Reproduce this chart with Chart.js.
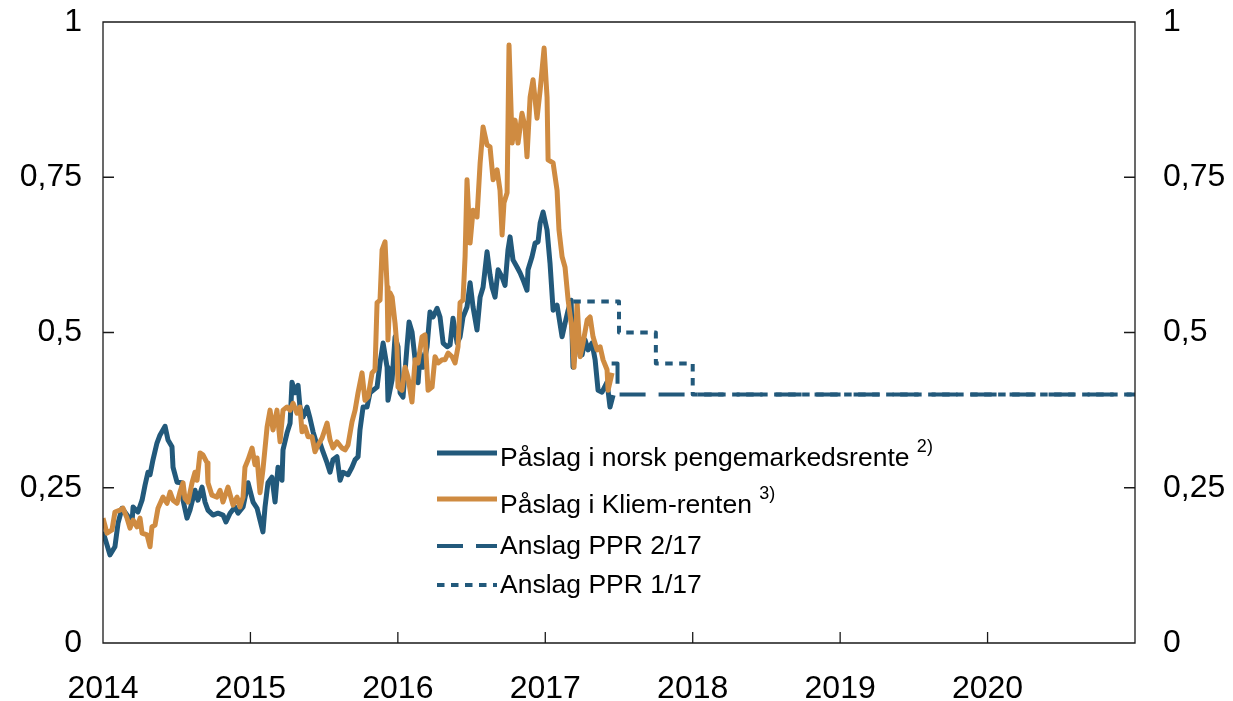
<!DOCTYPE html>
<html>
<head>
<meta charset="utf-8">
<script src="https://cdn.jsdelivr.net/npm/chart.js@4.4.0/dist/chart.umd.min.js"></script>
<style>
    html, body { margin: 0; padding: 0; background: #fff; }
    #wrap { width: 1233px; height: 701px; }
</style>
</head>
<body>
<div id="wrap"><canvas id="chart" width="1233" height="701"></canvas></div>
<script>
// x-akse: desimalår
const yearTicks = [2014, 2015, 2016, 2017, 2018, 2019, 2020];
const valueTicks = [0, 0.25, 0.5, 0.75, 1];

// Påslag i norsk pengemarkedsrente
const norskDates = [2014.000, 2014.027, 2014.047, 2014.081, 2014.102, 2014.129, 2014.163, 2014.197, 2014.204, 2014.237,
    2014.265, 2014.285, 2014.305, 2014.319, 2014.339, 2014.366, 2014.387, 2014.421, 2014.441, 2014.468,
    2014.475, 2014.502, 2014.536, 2014.543, 2014.570, 2014.590, 2014.624, 2014.644, 2014.672, 2014.692,
    2014.712, 2014.746, 2014.780, 2014.814, 2014.834, 2014.862, 2014.895, 2014.916, 2014.950, 2014.984,
    2015.018, 2015.045, 2015.065, 2015.085, 2015.099, 2015.119, 2015.146, 2015.167, 2015.187, 2015.214,
    2015.221, 2015.248, 2015.269, 2015.282, 2015.303, 2015.323, 2015.336, 2015.357, 2015.384, 2015.404,
    2015.425, 2015.452, 2015.472, 2015.492, 2015.520, 2015.540, 2015.560, 2015.587, 2015.608, 2015.628,
    2015.662, 2015.689, 2015.710, 2015.730, 2015.743, 2015.764, 2015.791, 2015.811, 2015.832, 2015.859,
    2015.879, 2015.900, 2015.927, 2015.933, 2015.961, 2015.981, 2016.001, 2016.015, 2016.035, 2016.062,
    2016.076, 2016.096, 2016.117, 2016.137, 2016.151, 2016.171, 2016.198, 2016.218, 2016.239, 2016.266,
    2016.286, 2016.307, 2016.334, 2016.354, 2016.374, 2016.402, 2016.422, 2016.442, 2016.469, 2016.490,
    2016.510, 2016.537, 2016.558, 2016.578, 2016.605, 2016.625, 2016.639, 2016.659, 2016.680, 2016.707,
    2016.727, 2016.747, 2016.761, 2016.781, 2016.809, 2016.829, 2016.849, 2016.876, 2016.883, 2016.910,
    2016.931, 2016.951, 2016.965, 2016.985, 2017.012, 2017.032, 2017.053, 2017.080, 2017.114, 2017.134,
    2017.155, 2017.175, 2017.188, 2017.216, 2017.250, 2017.270, 2017.290, 2017.317, 2017.338, 2017.358,
    2017.385, 2017.419, 2017.439, 2017.460];
const norskValues = [0.179, 0.158, 0.142, 0.155, 0.193, 0.217, 0.206, 0.195, 0.219, 0.211,
    0.230, 0.254, 0.275, 0.271, 0.295, 0.322, 0.335, 0.349, 0.327, 0.316,
    0.283, 0.259, 0.258, 0.230, 0.201, 0.214, 0.246, 0.230, 0.251, 0.227,
    0.214, 0.206, 0.209, 0.206, 0.195, 0.209, 0.219, 0.209, 0.219, 0.258,
    0.227, 0.217, 0.198, 0.179, 0.219, 0.258, 0.267, 0.227, 0.283, 0.262,
    0.311, 0.338, 0.354, 0.420, 0.403, 0.415, 0.380, 0.364, 0.380, 0.362,
    0.340, 0.319, 0.322, 0.308, 0.290, 0.275, 0.295, 0.300, 0.262, 0.275,
    0.271, 0.283, 0.295, 0.300, 0.343, 0.380, 0.380, 0.403, 0.407, 0.412,
    0.451, 0.483, 0.444, 0.391, 0.424, 0.493, 0.477, 0.403, 0.396, 0.477,
    0.517, 0.501, 0.456, 0.419, 0.467, 0.444, 0.477, 0.533, 0.525, 0.539,
    0.525, 0.483, 0.477, 0.480, 0.523, 0.483, 0.493, 0.525, 0.541, 0.580,
    0.541, 0.504, 0.557, 0.573, 0.630, 0.593, 0.573, 0.557, 0.601, 0.589,
    0.576, 0.633, 0.654, 0.617, 0.605, 0.596, 0.585, 0.568, 0.601, 0.622,
    0.644, 0.646, 0.676, 0.694, 0.665, 0.612, 0.536, 0.544, 0.493, 0.515,
    0.536, 0.552, 0.444, 0.488, 0.464, 0.488, 0.472, 0.483, 0.456, 0.407,
    0.404, 0.420, 0.380, 0.399];

// Påslag i Kliem-renten
const kliemDates = [2014.000, 2014.027, 2014.061, 2014.081, 2014.115, 2014.136, 2014.163, 2014.183, 2014.204, 2014.231,
    2014.251, 2014.265, 2014.299, 2014.319, 2014.332, 2014.353, 2014.373, 2014.407, 2014.434, 2014.455,
    2014.475, 2014.502, 2014.522, 2014.543, 2014.556, 2014.577, 2014.604, 2014.624, 2014.638, 2014.658,
    2014.678, 2014.706, 2014.712, 2014.739, 2014.773, 2014.794, 2014.814, 2014.848, 2014.882, 2014.909,
    2014.929, 2014.950, 2014.963, 2014.984, 2015.011, 2015.031, 2015.045, 2015.065, 2015.085, 2015.113,
    2015.133, 2015.153, 2015.180, 2015.201, 2015.221, 2015.248, 2015.269, 2015.289, 2015.316, 2015.336,
    2015.350, 2015.370, 2015.391, 2015.418, 2015.438, 2015.459, 2015.486, 2015.520, 2015.540, 2015.560,
    2015.587, 2015.621, 2015.642, 2015.662, 2015.689, 2015.710, 2015.730, 2015.757, 2015.777, 2015.798,
    2015.825, 2015.845, 2015.859, 2015.879, 2015.893, 2015.913, 2015.927, 2015.933, 2015.947, 2015.961,
    2015.981, 2015.994, 2016.001, 2016.028, 2016.049, 2016.069, 2016.096, 2016.117, 2016.137, 2016.164,
    2016.184, 2016.205, 2016.232, 2016.252, 2016.273, 2016.300, 2016.320, 2016.341, 2016.368, 2016.388,
    2016.408, 2016.422, 2016.442, 2016.456, 2016.469, 2016.490, 2016.510, 2016.537, 2016.558, 2016.578,
    2016.605, 2016.625, 2016.646, 2016.673, 2016.693, 2016.707, 2016.720, 2016.741, 2016.754, 2016.775,
    2016.795, 2016.815, 2016.842, 2016.863, 2016.876, 2016.897, 2016.917, 2016.944, 2016.965, 2016.992,
    2017.012, 2017.019, 2017.053, 2017.080, 2017.093, 2017.114, 2017.134, 2017.155, 2017.182, 2017.195,
    2017.216, 2017.236, 2017.256, 2017.284, 2017.304, 2017.324, 2017.351, 2017.372, 2017.392, 2017.419,
    2017.426, 2017.453];
const kliemValues = [0.201, 0.177, 0.182, 0.211, 0.214, 0.217, 0.201, 0.185, 0.198, 0.187,
    0.201, 0.177, 0.174, 0.155, 0.187, 0.190, 0.217, 0.235, 0.225, 0.243,
    0.230, 0.225, 0.243, 0.258, 0.233, 0.227, 0.258, 0.275, 0.262, 0.306,
    0.303, 0.290, 0.258, 0.238, 0.235, 0.246, 0.227, 0.251, 0.222, 0.235,
    0.219, 0.235, 0.283, 0.295, 0.314, 0.287, 0.298, 0.242, 0.279, 0.348,
    0.375, 0.343, 0.375, 0.324, 0.375, 0.380, 0.375, 0.386, 0.370, 0.380,
    0.340, 0.348, 0.332, 0.332, 0.308, 0.319, 0.330, 0.354, 0.327, 0.314,
    0.324, 0.314, 0.311, 0.319, 0.356, 0.375, 0.403, 0.435, 0.391, 0.396,
    0.435, 0.440, 0.548, 0.552, 0.633, 0.646, 0.573, 0.488, 0.564, 0.557,
    0.515, 0.477, 0.412, 0.407, 0.444, 0.428, 0.388, 0.456, 0.451, 0.493,
    0.496, 0.407, 0.412, 0.461, 0.451, 0.456, 0.456, 0.467, 0.461, 0.451,
    0.477, 0.548, 0.552, 0.622, 0.746, 0.644, 0.697, 0.686, 0.773, 0.831,
    0.802, 0.799, 0.746, 0.762, 0.729, 0.657, 0.709, 0.725, 0.963, 0.805,
    0.842, 0.805, 0.853, 0.831, 0.783, 0.879, 0.907, 0.845, 0.890, 0.958,
    0.879, 0.778, 0.773, 0.729, 0.665, 0.622, 0.605, 0.552, 0.504, 0.444,
    0.548, 0.461, 0.483, 0.520, 0.525, 0.493, 0.472, 0.477, 0.456, 0.440,
    0.407, 0.435];

// Anslag PPR 2/17 og PPR 1/17 (trappetrinn per kvartal)
const ppr2Dates = [2017.45, 2017.49, 2021.0];
const ppr2Values = [0.45, 0.40, 0.40];
const ppr1Dates = [2017.19, 2017.50, 2017.75, 2018.00, 2021.0];
const ppr1Values = [0.55, 0.50, 0.45, 0.40, 0.40];

const legendNotes = ['2)', '3)', '', ''];

const BLUE = '#22597b';
const ORANGE = '#cf8b41';
const FONT = '"Liberation Sans", Arial, Helvetica, sans-serif';

function toPoints(dates, values) {
    return dates.map((d, i) => ({ x: d, y: values[i] }));
}
function fmt(v) {
    return String(v).replace('.', ',');
}
// faste aksebredder, uten ekstra luft over/under
function fixWidth(w) {
    return s => { s.width = w; s.paddingTop = 0; s.paddingBottom = 0; };
}

// ramme og innvendige tick-streker
const framePlugin = {
    id: 'frame',
    afterDatasetsDraw(chart) {
        const ctx = chart.ctx;
        const a = chart.chartArea;
        const len = 11;
        ctx.save();
        ctx.strokeStyle = '#1a1a1a';
        ctx.lineWidth = 1.3;
        ctx.beginPath();
        ctx.rect(a.left, a.top, a.right - a.left, a.bottom - a.top);
        chart.scales.y.ticks.forEach(t => {
            const py = chart.scales.y.getPixelForValue(t.value);
            ctx.moveTo(a.left, py); ctx.lineTo(a.left + len, py);
            ctx.moveTo(a.right, py); ctx.lineTo(a.right - len, py);
        });
        chart.scales.x.ticks.forEach(t => {
            const px = chart.scales.x.getPixelForValue(t.value);
            ctx.moveTo(px, a.bottom); ctx.lineTo(px, a.bottom - len);
        });
        ctx.stroke();
        ctx.restore();
    }
};

// forklaring inne i plottet
const legendPlugin = {
    id: 'innerLegend',
    afterDraw(chart) {
        const ctx = chart.ctx;
        const lineY = [453, 499, 546, 585];
        const textY = [466, 512.5, 554, 593];
        ctx.save();
        chart.data.datasets.forEach((ds, row) => {
            ctx.beginPath();
            ctx.strokeStyle = ds.borderColor;
            ctx.lineWidth = ds.borderWidth;
            ctx.setLineDash(ds.borderDash || []);
            ctx.moveTo(437, lineY[row]);
            ctx.lineTo(497, lineY[row]);
            ctx.stroke();
            ctx.setLineDash([]);
            ctx.fillStyle = '#000';
            ctx.textBaseline = 'alphabetic';
            ctx.textAlign = 'left';
            ctx.font = '26.5px ' + FONT;
            ctx.fillText(ds.label, 500, textY[row]);
            const note = legendNotes[row];
            if (note) {
                const w = ctx.measureText(ds.label + ' ').width;
                ctx.font = '18px ' + FONT;
                ctx.fillText(note, 500 + w, textY[row] - 14);
            }
        });
        ctx.restore();
    }
};

const tickFont = { family: FONT, size: 32 };

new Chart(document.getElementById('chart'), {
    type: 'line',
    data: {
        datasets: [
            {
                label: 'Påslag i norsk pengemarkedsrente',
                data: toPoints(norskDates, norskValues),
                borderColor: BLUE,
                borderWidth: 5,
                order: 2
            },
            {
                label: 'Påslag i Kliem-renten',
                data: toPoints(kliemDates, kliemValues),
                borderColor: ORANGE,
                borderWidth: 5,
                order: 1
            },
            {
                label: 'Anslag PPR 2/17',
                data: toPoints(ppr2Dates, ppr2Values),
                borderColor: BLUE,
                borderWidth: 4,
                borderDash: [26, 13],
                stepped: 'before',
                order: 0
            },
            {
                label: 'Anslag PPR 1/17',
                data: toPoints(ppr1Dates, ppr1Values),
                borderColor: BLUE,
                borderWidth: 4,
                borderDash: [7.5, 6.5],
                stepped: 'before',
                order: 0
            }
        ]
    },
    options: {
        responsive: false,
        animation: false,
        devicePixelRatio: 1,
        layout: { padding: { top: 22, left: 0, right: 0, bottom: 0 } },
        elements: {
            point: { radius: 0 },
            line: { tension: 0, borderJoinStyle: 'round', borderCapStyle: 'butt', fill: false }
        },
        plugins: {
            legend: { display: false },
            tooltip: { enabled: false }
        },
        scales: {
            x: {
                type: 'linear',
                position: 'bottom',
                min: 2014,
                max: 2021,
                afterBuildTicks: s => { s.ticks = yearTicks.map(v => ({ value: v })); },
                afterFit: s => { s.height = 58; s.paddingLeft = 0; s.paddingRight = 0; },
                grid: { display: false, drawTicks: false },
                border: { display: false },
                ticks: {
                    color: '#000',
                    font: tickFont,
                    padding: 27,
                    maxRotation: 0,
                    autoSkip: false,
                    callback: v => String(v)
                }
            },
            y: {
                type: 'linear',
                position: 'left',
                min: 0,
                max: 1,
                afterBuildTicks: s => { s.ticks = valueTicks.map(v => ({ value: v })); },
                afterFit: fixWidth(103),
                grid: { display: false, drawTicks: false },
                border: { display: false },
                ticks: { color: '#000', font: tickFont, padding: 21, callback: v => fmt(v) }
            },
            y2: {
                type: 'linear',
                position: 'right',
                min: 0,
                max: 1,
                afterBuildTicks: s => { s.ticks = valueTicks.map(v => ({ value: v })); },
                afterFit: fixWidth(98),
                grid: { display: false, drawTicks: false },
                border: { display: false },
                ticks: { color: '#000', font: tickFont, padding: 28, callback: v => fmt(v) }
            }
        }
    },
    plugins: [framePlugin, legendPlugin]
});
</script>
</body>
</html>
